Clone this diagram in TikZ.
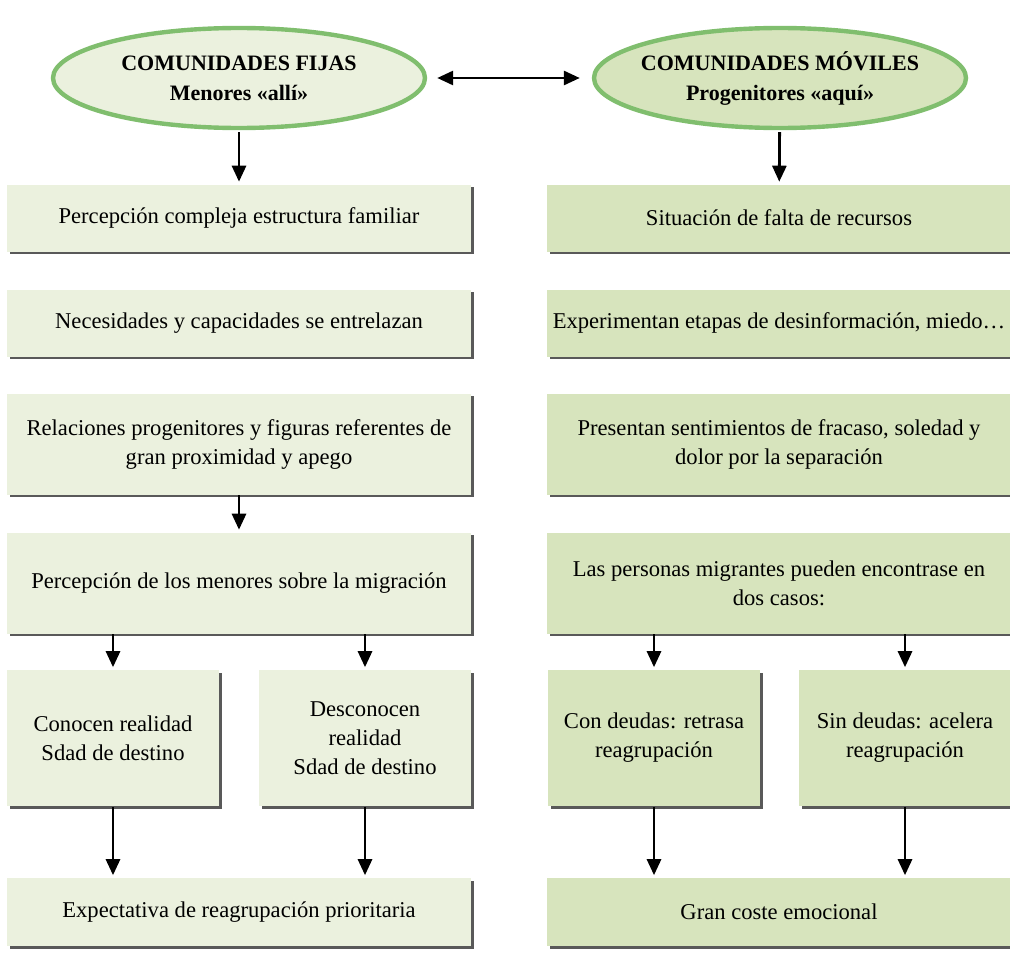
\documentclass[tikz,border=0pt]{standalone}
\usepackage{fontspec}
\setmainfont{Liberation Serif}
\usetikzlibrary{shapes.geometric,shadows,arrows.meta}

\definecolor{verdeclaro}{HTML}{EBF1DE}
\definecolor{verdemedio}{HTML}{D7E4BD}
\definecolor{verdeborde}{HTML}{80BE6E}

\begin{document}
\begin{tikzpicture}[x=0.5pt, y=-0.5pt, thick, >={Triangle[length=8pt,width=7pt]},
    caja/.style = {rectangle, inner sep=2pt, align=center, font=\fontsize{11.3}{14.5}\selectfont,
        drop shadow={shadow xshift=1.3pt, shadow yshift=-1.3pt, fill=black!65, opacity=1}},
    ancha/.style = {caja, minimum width=232pt},
    estrecha/.style = {caja, minimum width=106pt, minimum height=68pt},
    fija/.style = {fill=verdeclaro},
    movil/.style = {fill=verdemedio},
    flecha/.style = {->, line width=1.4pt},
    elipse/.style = {ellipse, draw=verdeborde, line width=2.2pt, inner xsep=-16pt, inner ysep=0pt,
        minimum width=186pt, minimum height=50pt,
        align=center, font=\bfseries\fontsize{11}{15}\selectfont}]
    \useasboundingbox (0,0) rectangle (1010,963);

    % cabeceras
    \node[elipse, fill=verdeclaro] (fijas) at (239,78) {COMUNIDADES FIJAS\\Menores «allí»};
    \node[elipse, fill=verdemedio] (moviles) at (780,78) {COMUNIDADES MÓVILES\\Progenitores «aquí»};

    % columna izquierda
    \node[ancha, fija, minimum height=33.5pt] (f1) at (239,218) {Percepción compleja estructura familiar};
    \node[ancha, fija, minimum height=33.5pt] (f2) at (239,323) {Necesidades y capacidades se entrelazan};
    \node[ancha, fija, minimum height=50.5pt] (f3) at (239,444) {Relaciones progenitores y figuras referentes de\\gran proximidad y apego};
    \node[ancha, fija, minimum height=50.5pt] (f4) at (239,583) {Percepción de los menores sobre la migración};
    \node[estrecha, fija] (f5a) at (113,738) {Conocen realidad\\Sdad de destino};
    \node[estrecha, fija] (f5b) at (365,738) {Desconocen\\realidad\\Sdad de destino};
    \node[ancha, fija, minimum height=34pt] (f6) at (239,912) {Expectativa de reagrupación prioritaria};

    % columna derecha
    \node[ancha, movil, minimum height=33.5pt] (m1) at (779,218) {Situación de falta de recursos};
    \node[ancha, movil, minimum height=33.5pt] (m2) at (779,323) {Experimentan etapas de desinformación, miedo…};
    \node[ancha, movil, minimum height=50.5pt] (m3) at (779,444) {Presentan sentimientos de fracaso, soledad y\\dolor por la separación};
    \node[ancha, movil, minimum height=50.5pt] (m4) at (779,583) {Las personas migrantes pueden encontrase en\\dos casos:};
    \node[estrecha, movil] (m5a) at (654,738) {Con deudas: retrasa\\reagrupación};
    \node[estrecha, movil] (m5b) at (905,738) {Sin deudas: acelera\\reagrupación};
    \node[ancha, movil, minimum height=34pt] (m6) at (779,912) {Gran coste emocional};

    \draw[flecha, <->, shorten <=5pt, shorten >=6pt] (fijas) -- (moviles);

    \draw[flecha, shorten <=1pt, shorten >=1pt] (fijas) -- (f1);
    \draw[flecha, shorten <=1pt, shorten >=1pt] (moviles) -- (m1);
    \draw[flecha, shorten >=1pt] (f3) -- (f4);

    \draw[flecha, shorten >=1pt] (f4.south -| f5a) -- (f5a);
    \draw[flecha, shorten >=1pt] (f4.south -| f5b) -- (f5b);
    \draw[flecha, shorten >=1pt] (m4.south -| m5a) -- (m5a);
    \draw[flecha, shorten >=1pt] (m4.south -| m5b) -- (m5b);

    \draw[flecha, shorten >=1pt] (f5a) -- (f6.north -| f5a);
    \draw[flecha, shorten >=1pt] (f5b) -- (f6.north -| f5b);
    \draw[flecha, shorten >=1pt] (m5a) -- (m6.north -| m5a);
    \draw[flecha, shorten >=1pt] (m5b) -- (m6.north -| m5b);
\end{tikzpicture}
\end{document}
